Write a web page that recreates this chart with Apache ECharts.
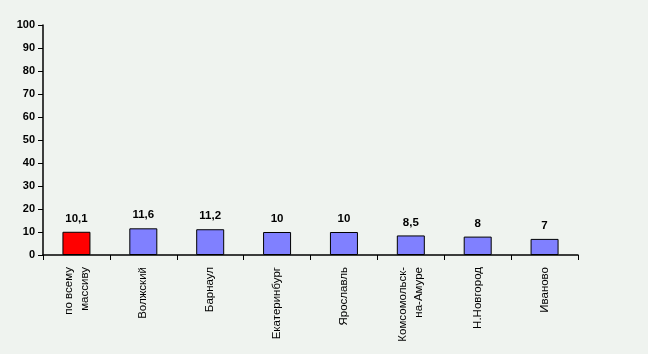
<!DOCTYPE html>
<html>
<head>
<meta charset="utf-8">
<script src="https://cdn.jsdelivr.net/npm/echarts@6/dist/echarts.min.js"></script>
<style>
  html, body { margin: 0; padding: 0; background: #eff3ef; }
  #chart { width: 648px; height: 354px; }
</style>
</head>
<body>
<div id="chart"></div>
<script>
const categories = ['по всему\nмассиву', 'Волжский', 'Барнаул', 'Екатеринбург', 'Ярославль', 'Комсомольск-\nна-Амуре', 'Н.Новгород', 'Иваново']
const values = [10.1, 11.6, 11.2, 10, 10, 8.5, 8, 7]
const yTicks = [0, 10, 20, 30, 40, 50, 60, 70, 80, 90, 100]

const chart = echarts.init(document.getElementById('chart'))

const option = {
  backgroundColor: '#eff3ef',
  animation: false,
  grid: {
    left: 43,
    right: 70,
    top: 25,
    bottom: 99
  },
  xAxis: {
    type: 'category',
    data: categories,
    axisLine: { lineStyle: { color: '#000', width: 1.5 } },
    axisTick: { show: true, length: 5, lineStyle: { color: '#000' } },
    axisLabel: {
      rotate: 90,
      color: '#000',
      fontFamily: 'Liberation Sans, Arial, sans-serif',
      fontSize: 11.5,
      lineHeight: 16,
      margin: 12,
      interval: 0
    }
  },
  yAxis: {
    type: 'value',
    min: yTicks[0],
    max: yTicks[yTicks.length - 1],
    interval: 10,
    splitLine: { show: false },
    axisLine: { show: true, lineStyle: { color: '#000', width: 1.5 } },
    axisTick: { show: true, length: 5, lineStyle: { color: '#000' } },
    axisLabel: {
      color: '#000',
      fontFamily: 'Liberation Sans, Arial, sans-serif',
      fontSize: 11,
      fontWeight: 'bold',
      margin: 8
    }
  },
  series: [
    {
      type: 'bar',
      data: values.map((v, i) => ({
        value: v,
        itemStyle: { color: i === 0 ? '#ff0000' : '#8080ff' }
      })),
      barWidth: 28,
      itemStyle: { borderColor: '#000', borderWidth: 1 },
      label: {
        show: true,
        position: 'top',
        distance: 7,
        color: '#000',
        fontFamily: 'Liberation Sans, Arial, sans-serif',
        fontSize: 11.5,
        fontWeight: 'bold',
        formatter: (p) => String(p.value).replace('.', ',')
      }
    }
  ]
}

chart.setOption(option)
</script>
</body>
</html>
